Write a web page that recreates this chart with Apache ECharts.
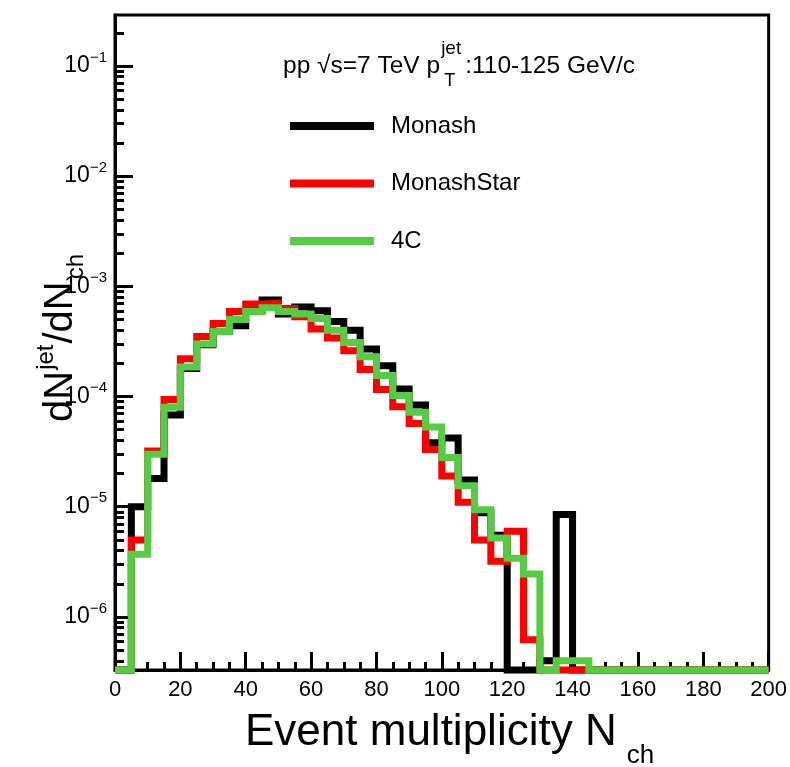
<!DOCTYPE html>
<html>
<head>
<meta charset="utf-8">
<script src="https://cdn.jsdelivr.net/npm/echarts@6/dist/echarts.min.js"></script>
<style>
  html, body { margin: 0; padding: 0; background: #fff; }
  #chart { width: 790px; height: 767px; }
</style>
</head>
<body>
<div id="chart"></div>
<script>
// Lower edges of the 5-unit multiplicity bins (0 .. 195); the histogram closes at 200.
const binLow = [0, 5, 10, 15, 20, 25, 30, 35, 40, 45, 50, 55, 60, 65, 70, 75, 80, 85, 90, 95,
                100, 105, 110, 115, 120, 125, 130, 135, 140, 145, 150, 155, 160, 165, 170, 175, 180, 185, 190, 195];
const binHigh = 200;

// dN^jet/dN_ch per bin for each PYTHIA tune (0 = empty bin)
const monash = [0, 1.0e-5, 1.8e-5, 6.8e-5, 1.8e-4, 2.95e-4, 3.9e-4, 4.4e-4, 6.0e-4, 7.5e-4,
                5.6e-4, 6.5e-4, 6.0e-4, 4.8e-4, 4.0e-4, 2.7e-4, 1.9e-4, 1.17e-4, 8.4e-5, 3.8e-5,
                4.2e-5, 1.75e-5, 8.8e-6, 5.5e-6, 0, 0, 4.0e-7, 8.5e-6, 0, 0,
                0, 0, 0, 0, 0, 0, 0, 0, 0, 0];
const monashStar = [0, 5.0e-6, 3.2e-5, 9.4e-5, 2.2e-4, 3.5e-4, 4.6e-4, 5.9e-4, 6.9e-4, 7.0e-4,
                    6.3e-4, 5.3e-4, 4.1e-4, 3.4e-4, 2.6e-4, 1.76e-4, 1.16e-4, 8.1e-5, 5.7e-5, 3.3e-5,
                    1.9e-5, 1.1e-5, 5.0e-6, 3.2e-6, 6.0e-6, 6.2e-7, 0, 0, 0, 0,
                    0, 0, 0, 0, 0, 0, 0, 0, 0, 0];
const tune4C = [0, 3.7e-6, 3.0e-5, 8.0e-5, 1.85e-4, 3.0e-4, 3.9e-4, 5.0e-4, 5.9e-4, 6.4e-4,
                5.9e-4, 5.6e-4, 5.1e-4, 4.0e-4, 3.1e-4, 2.3e-4, 1.55e-4, 1.02e-4, 7.2e-5, 5.3e-5,
                2.8e-5, 1.55e-5, 9.4e-6, 5.2e-6, 3.4e-6, 2.45e-6, 0, 4.0e-7, 4.0e-7, 0,
                0, 0, 0, 0, 0, 0, 0, 0, 0, 0];

const seriesNames = ['Monash', 'MonashStar', '4C'];
const seriesColors = ['#000000', '#ff0000', '#55cc44'];

// Axis ranges and tick values
const xMin = 0, xMax = 200, xStep = 20;
const yMin = 3.3e-7, yMax = 0.29;
const yMajorTicks = [1e-6, 1e-5, 1e-4, 1e-3, 1e-2, 1e-1];
const yMinorTicks = [];
for (let e = -7; e <= -1; e++) {
  for (let k = 2; k <= 9; k++) {
    const v = k * Math.pow(10, e);
    if (v > yMin && v < yMax) yMinorTicks.push(v);
  }
}

const FONT = '"Liberation Sans", Arial, Helvetica, sans-serif';

// Empty bins sit on the lower edge of the log axis, as in a ROOT log plot.
function stepData(values) {
  const pts = binLow.map((x, i) => [x, values[i] > 0 ? values[i] : yMin]);
  const last = values[values.length - 1];
  pts.push([binHigh, last > 0 ? last : yMin]);
  return pts;
}

// Text measuring for laying out super/subscripts
const mctx = document.createElement('canvas').getContext('2d');
function textWidth(str, size) {
  mctx.font = size + 'px ' + FONT;
  return mctx.measureText(str).width;
}
// parts: {t, size, dy (baseline shift), stack: [{t,size,dy}, ...]}
function flowText(parts, x0, baseline, rotation) {
  const children = [];
  let cx = 0;
  parts.forEach(p => {
    const items = p.stack || [p];
    let w = 0;
    items.forEach(it => {
      children.push({
        type: 'text',
        x: cx + (it.dx || 0),
        y: (it.dy || 0) - 0.34 * it.size,
        style: {
          text: it.t, fill: '#000', fontSize: it.size, fontFamily: FONT,
          align: 'left', verticalAlign: 'middle'
        }
      });
      w = Math.max(w, textWidth(it.t, it.size) + (it.dx || 0));
    });
    cx += w + (p.gap || 0);
  });
  return { type: 'group', x: x0, y: baseline, rotation: rotation || 0, children: children, silent: true };
}

const chart = echarts.init(document.getElementById('chart'), null, { renderer: 'canvas' });

const series = [monash, monashStar, tune4C].map((vals, i) => ({
  name: seriesNames[i],
  type: 'line',
  step: 'end',
  symbol: 'none',
  clip: false,
  data: stepData(vals),
  itemStyle: { color: seriesColors[i] },
  lineStyle: { color: seriesColors[i], width: 7, join: 'miter', cap: 'butt' },
  z: 3 + i
}));

chart.setOption({
  animation: false,
  backgroundColor: '#ffffff',
  grid: {
    left: 115, right: 19, top: 15, bottom: 97,
    show: true, borderColor: '#000', borderWidth: 3, backgroundColor: 'transparent'
  },
  legend: {
    orient: 'vertical',
    left: 285, top: 109,
    icon: 'rect',
    itemWidth: 84, itemHeight: 8,
    itemGap: 33.5,
    data: seriesNames,
    textStyle: { fontSize: 24, fontFamily: FONT, color: '#000', lineHeight: 24, padding: [0, 0, 0, 12] }
  },
  xAxis: {
    type: 'value',
    min: xMin, max: xMax, interval: xStep,
    axisLine: { lineStyle: { color: '#000', width: 3 } },
    axisTick: { inside: true, length: 18, lineStyle: { color: '#000', width: 3 } },
    minorTick: { show: true, splitNumber: 4, length: 8, lineStyle: { color: '#000', width: 3 } },
    axisLabel: { fontSize: 22, fontFamily: FONT, color: '#000', margin: 9 },
    splitLine: { show: false },
    minorSplitLine: { show: false }
  },
  yAxis: [
    {
      type: 'log', logBase: 10,
      min: yMin, max: yMax,
      axisLine: { lineStyle: { color: '#000', width: 3 } },
      axisTick: { inside: true, length: 18, customValues: yMajorTicks, lineStyle: { color: '#000', width: 3 } },
      axisLabel: {
        customValues: yMajorTicks,
        margin: 8,
        formatter: v => '{b|10}{s|−' + Math.abs(Math.round(Math.log10(v))) + '}',
        rich: {
          b: { fontSize: 23, fontFamily: FONT, color: '#000', lineHeight: 32 },
          s: { fontSize: 15, fontFamily: FONT, color: '#000', lineHeight: 15, verticalAlign: 'top' }
        }
      },
      splitLine: { show: false }
    },
    {
      type: 'log', logBase: 10,
      min: yMin, max: yMax,
      position: 'left',
      axisLine: { show: false },
      axisTick: { inside: true, length: 9, customValues: yMinorTicks, lineStyle: { color: '#000', width: 3 } },
      axisLabel: { show: false },
      splitLine: { show: false }
    }
  ],
  series: series,
  graphic: [
    // Header: pp √s=7 TeV p_T^jet :110-125 GeV/c
    flowText([
      { t: 'pp √s=7 TeV p', size: 24.5, gap: 1 },
      { stack: [ { t: 'jet', size: 19, dy: -20 }, { t: 'T', size: 18, dy: 12, dx: 3 } ], gap: 4 },
      { t: ':110-125 GeV/c', size: 24.5 }
    ], 283, 75),
    // x-axis title
    flowText([
      { t: 'Event multiplicity N', size: 44, gap: 10 },
      { t: 'ch', size: 26, dy: 17 }
    ], 245, 748),
    // y-axis title (reads bottom to top)
    flowText([
      { t: 'dN', size: 40, gap: 1 },
      { t: 'jet', size: 24, dy: -20, gap: 1 },
      { t: '/dN', size: 40, gap: 2 },
      { t: 'ch', size: 24, dy: 10 }
    ], 75, 422, Math.PI / 2)
  ]
});
</script>
</body>
</html>
